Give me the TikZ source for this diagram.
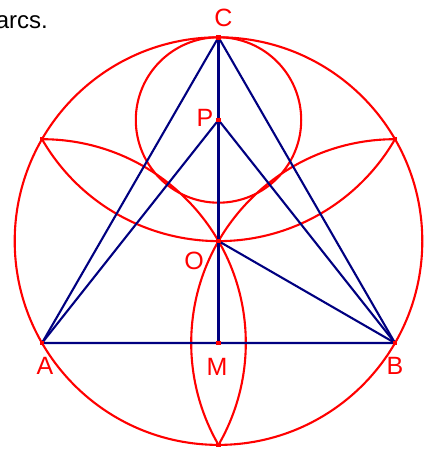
\documentclass[tikz,border=0pt]{standalone}
\usepackage{fontspec}
\setmainfont{Liberation Sans}
\definecolor{geored}{RGB}{255,0,0}
\definecolor{geoblue}{RGB}{0,0,128}
\begin{document}
\begin{tikzpicture}[x=1pt,y=1pt,
  redline/.style={draw=geored,line width=2.1pt},
  blueline/.style={draw=geoblue,line width=2.1pt},
  marker/.style={fill=geored,minimum size=4.5pt,inner sep=0pt,draw=none,rectangle},
  lbl/.style={text=geored,inner sep=0pt,font=\fontsize{25}{25}\selectfont}]
\useasboundingbox (0,0) rectangle (430,450);
\def\Rr{203.8}
\coordinate (A) at (42,107);
\coordinate (B) at (395,107);
\coordinate (M) at (218.5,107);
\coordinate (C) at (218.5,412.7);
\coordinate (O) at (218.5,208.9);
\coordinate (P) at (218.5,330);
\coordinate (L) at (42,310.8);
\coordinate (R) at (395,310.8);
\coordinate (D) at (218.5,5.1);
% red circles and arcs
\draw[redline] (O) circle[radius=\Rr];
\draw[redline] (P) circle[radius=82.7];
\draw[redline] (L) arc[start angle=90,end angle=-30,radius=\Rr];
\draw[redline] (R) arc[start angle=90,end angle=210,radius=\Rr];
\draw[redline] (L) arc[start angle=210,end angle=330,radius=\Rr];
% blue lines
\draw[blueline,line join=round] (A) -- (B) -- (C) -- cycle;
\draw[blueline] (C) -- (M);
\draw[blueline] (A) -- (P) -- (B);
\draw[blueline] (B) -- (O);
% markers
\foreach \p in {A,B,C,M,O,P,L,R,D} \node[marker] at (\p) {};
% labels
\node[lbl] (lC) at (223.5,432.5) {C};
\node[lbl] (lP) at (205,332) {P};
\node[lbl] (lO) at (194,189) {O};
\node[lbl] (lA) at (45,84) {A};
\node[lbl] (lM) at (217,83) {M};
\node[lbl] (lB) at (395,84) {B};
\node[anchor=base east,inner sep=0pt,font=\fontsize{24}{24}\selectfont] (txt) at (48,421.5) {arcs.};
\end{tikzpicture}
\end{document}
